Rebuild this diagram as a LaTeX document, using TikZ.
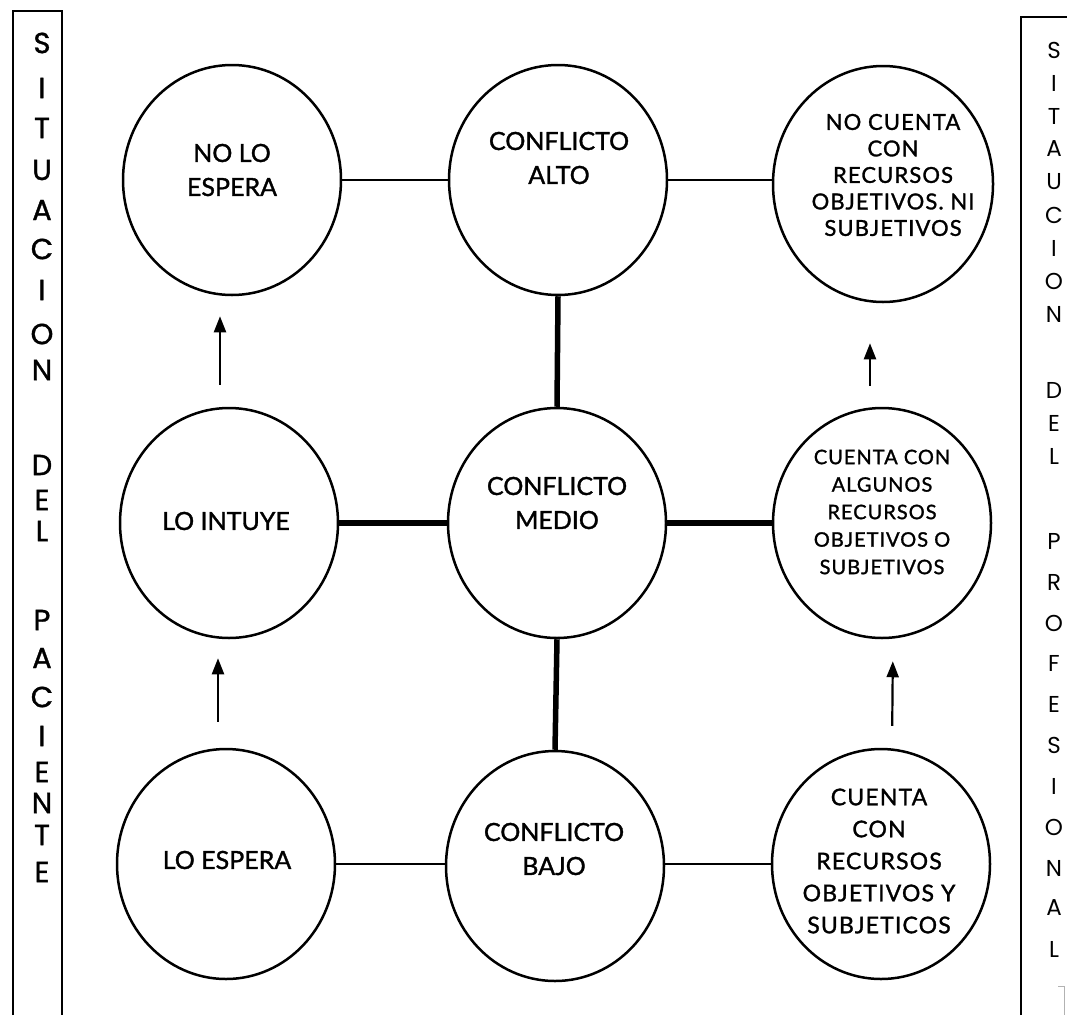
\documentclass[tikz,border=0pt]{standalone}
\usepackage{fontspec}
\setmainfont{Lato}
\newfontfamily\ctxt{Lato}[FakeBold=1.3]
\newfontfamily\ctxtw{Lato}[FakeBold=1.3,LetterSpace=5]
\newfontfamily\stripL{Poppins}[FakeBold=1.2]
\newfontfamily\stripR{Poppins}
\usetikzlibrary{shapes.geometric,arrows.meta,calc}
\begin{document}
\begin{tikzpicture}[x=1pt,y=-1pt,
  bub/.style={ellipse, draw, line width=2.5pt, minimum width=218pt, minimum height=230pt, inner sep=0pt},
  thinlink/.style={line width=2pt},
  heavylink/.style={line width=5.5pt},
  uparrow/.style={line width=2.2pt, -{Triangle[length=16pt,width=12pt]}},
  txtbig/.style={align=center, inner sep=0pt, font=\ctxt\fontsize{25}{34}\selectfont},
  txtA/.style={align=center, inner sep=0pt, font=\ctxtw\fontsize{22}{26.5}\selectfont},
  txtB/.style={align=center, inner sep=0pt, font=\ctxtw\fontsize{20}{27.5}\selectfont},
  txtC/.style={align=center, inner sep=0pt, font=\ctxtw\fontsize{23}{32}\selectfont},
  lettL/.style={inner sep=0pt, font=\stripL\fontsize{29}{29}\selectfont},
  lettR/.style={inner sep=0pt, font=\stripR\fontsize{23}{23}\selectfont},
  frame/.style={line width=2.5pt}
]
\useasboundingbox (0,0) rectangle (1067,1015);

% side frames
\draw[frame] (13,1015) -- (13,11) -- (62,11) -- (62,1015);
\draw[frame] (1021,1015) -- (1021,17) -- (1067,17);
\draw[black!30, line width=1pt] (1058,986) -- (1064,986) -- (1064,1015);

% letters of the strips
\foreach \ch/\yy [count=\i] in {S/43,I/88,T/128,U/170,A/210,C/249,I/290,O/334,N/370,D/465,E/500,L/531,P/620,A/658,C/697,I/736,E/772,N/803,T/835,E/872}
  \node[lettL] (l\i) at (42,\yy) {\ch};
\foreach \ch/\yy [count=\i] in {S/50,I/83,T/116,A/149,U/182,C/215,I/248,O/281,N/314,D/390,E/423,L/456,P/541,R/582,O/623,F/663,E/704,S/745,I/786,O/827,N/868,A/908,L/949}
  \node[lettR] (r\i) at (1054,\yy) {\ch};

% circles
\node[bub] (a1) at (232,180) {};
\node[bub] (a2) at (558,180) {};
\node[bub, minimum width=220pt, minimum height=236pt] (a3) at (883,184) {};
\node[bub] (b1) at (229,523) {};
\node[bub] (b2) at (557,523) {};
\node[bub] (b3) at (882,523) {};
\node[bub] (c1) at (226,864) {};
\node[bub] (c2) at (555,866) {};
\node[bub] (c3) at (881,864) {};

% texts
\node[txtbig] (t1) at (232,170) {NO LO\\ESPERA};
\node[txtbig] (t2) at (559,158) {CONFLICTO\\ALTO};
\node[txtA] (t3) at (893,175) {NO CUENTA\\CON\\RECURSOS\\OBJETIVOS. NI\\SUBJETIVOS};
\node[txtbig] (t4) at (226,521) {LO INTUYE};
\node[txtbig] (t5) at (557,503) {CONFLICTO\\MEDIO};
\node[txtB] (t6) at (882,512) {CUENTA CON\\ALGUNOS\\RECURSOS\\OBJETIVOS O\\SUBJETIVOS};
\node[txtbig] (t7) at (227,860) {LO ESPERA};
\node[txtbig] (t8) at (554,849) {CONFLICTO\\BAJO};
\node[txtC] (t9) at (879,861) {CUENTA\\CON\\RECURSOS\\OBJETIVOS Y\\SUBJETICOS};

% links
\draw[thinlink] (a1.east) -- (a2.west);
\draw[thinlink] (a2.east) -- (a2.east -| a3.west);
\draw[heavylink] (a2.south) -- (b2.north);
\draw[heavylink] (b1.east) -- (b2.west);
\draw[heavylink] (b2.east) -- (b3.west);
\draw[heavylink] (b2.south) -- (c2.north);
\draw[thinlink] (c1.east) -- (c1.east -| c2.west);
\draw[thinlink] (c3.west -| c2.east) -- (c3.west);

% arrows
\draw[uparrow, shorten <=22pt, shorten >=20pt] ([xshift=-9pt]b1.north) -- ([xshift=-12pt]a1.south);
\draw[uparrow, shorten <=26pt, shorten >=19pt] ([xshift=-8pt]c1.north) -- ([xshift=-11pt]b1.south);
\draw[uparrow, shorten <=21pt, shorten >=40pt] ([xshift=-12pt]b3.north) -- ([xshift=-13pt]a3.south);
\draw[uparrow, shorten <=22pt, shorten >=22pt] ([xshift=11pt]c3.north) -- ([xshift=11pt]b3.south);
\end{tikzpicture}
\end{document}
